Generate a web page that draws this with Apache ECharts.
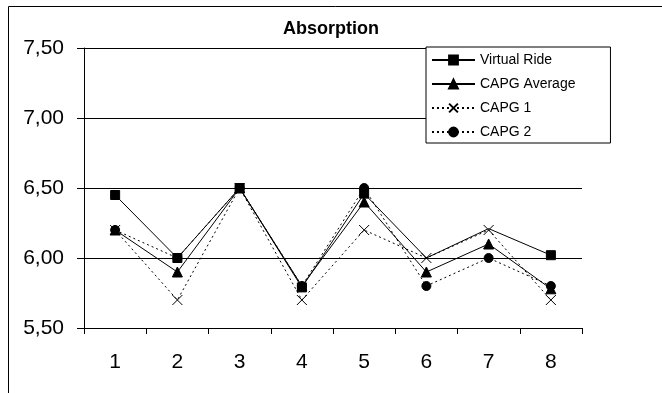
<!DOCTYPE html>
<html>
<head>
<meta charset="utf-8">
<script src="https://cdn.jsdelivr.net/npm/echarts@6/dist/echarts.min.js"></script>
<style>html,body{margin:0;padding:0;background:#fff}#c{width:662px;height:393px}</style>
</head>
<body>
<div id="c"></div>
<script>
const categories = ['1', '2', '3', '4', '5', '6', '7', '8'];
const virtualRide = [6.45, 6.00, 6.50, 5.79, 6.46, 6.00, 6.21, 6.02];
const capgAverage = [6.20, 5.90, 6.50, 5.80, 6.40, 5.90, 6.10, 5.78];
const capg1 = [6.20, 5.70, 6.50, 5.70, 6.20, 6.00, 6.20, 5.70];
const capg2 = [6.20, 6.00, 6.50, 5.80, 6.50, 5.80, 6.00, 5.80];
const seriesNames = ['Virtual Ride', 'CAPG Average', 'CAPG 1', 'CAPG 2'];
// points of "Virtual Ride" whose marker is not visible in the original
const virtualRideHiddenMarkers = [5, 6];

const FONT = '"Liberation Sans", Arial, sans-serif';
const chart = echarts.init(document.getElementById('c'), null, {renderer: 'canvas'});
const crossPath = 'path://M0,0L10,10M10,0L0,10';

function mk(name, data, symbol, size, dashed, hidden) {
  const items = data.map((v, i) => (hidden && hidden.indexOf(i) >= 0)
    ? {value: v, symbolSize: 0} : v);
  return {
    name: name, type: 'line', data: items,
    symbol: symbol, symbolSize: size,
    showAllSymbols: true,
    lineStyle: {color: '#000', width: 1, type: dashed ? [2, 3] : 'solid'},
    itemStyle: {color: '#000', borderColor: '#000', borderWidth: 1},
    emphasis: {disabled: true},
    animation: false
  };
}

chart.setOption({
  animation: false,
  backgroundColor: '#fff',
  graphic: [{
    type: 'rect', left: 8, top: 6, z: -10,
    shape: {width: 720, height: 460},
    style: {fill: '#fff', stroke: '#000', lineWidth: 1}
  }],
  title: {
    text: 'Absorption', left: 'center', top: 20, padding: 0,
    textStyle: {fontFamily: FONT, fontSize: 18, fontWeight: 'bold', color: '#000'}
  },
  legend: {
    data: seriesNames,
    orient: 'vertical', left: 426, top: 47,
    padding: [6, 35, 4, 5],
    itemWidth: 43, itemHeight: 11, itemGap: 10,
    backgroundColor: '#fff', borderColor: '#000', borderWidth: 1,
    textStyle: {fontFamily: FONT, fontSize: 14, color: '#000'},
    selectedMode: false
  },
  grid: {left: 84, right: 80, top: 48, bottom: 65, containLabel: false},
  xAxis: {
    type: 'category', data: categories, boundaryGap: true,
    axisLine: {lineStyle: {color: '#000', width: 1}},
    axisTick: {show: true, alignWithLabel: false, length: 6, lineStyle: {color: '#000'}},
    axisLabel: {fontFamily: FONT, fontSize: 21, color: '#000', margin: 24},
    splitLine: {show: false}
  },
  yAxis: {
    type: 'value', min: 5.5, max: 7.5, interval: 0.5,
    axisLine: {show: true, lineStyle: {color: '#000', width: 1}},
    axisTick: {show: true, length: 7, lineStyle: {color: '#000'}},
    axisLabel: {
      fontFamily: FONT, fontSize: 21, color: '#000', margin: 20,
      formatter: v => v.toFixed(2).replace('.', ',')
    },
    splitLine: {show: true, lineStyle: {color: '#000', width: 1}}
  },
  series: [
    mk(seriesNames[0], virtualRide, 'rect', 9, false, virtualRideHiddenMarkers),
    mk(seriesNames[1], capgAverage, 'triangle', 10, false),
    mk(seriesNames[2], capg1, crossPath, 10, true),
    mk(seriesNames[3], capg2, 'circle', 9, true)
  ]
});
</script>
</body>
</html>
